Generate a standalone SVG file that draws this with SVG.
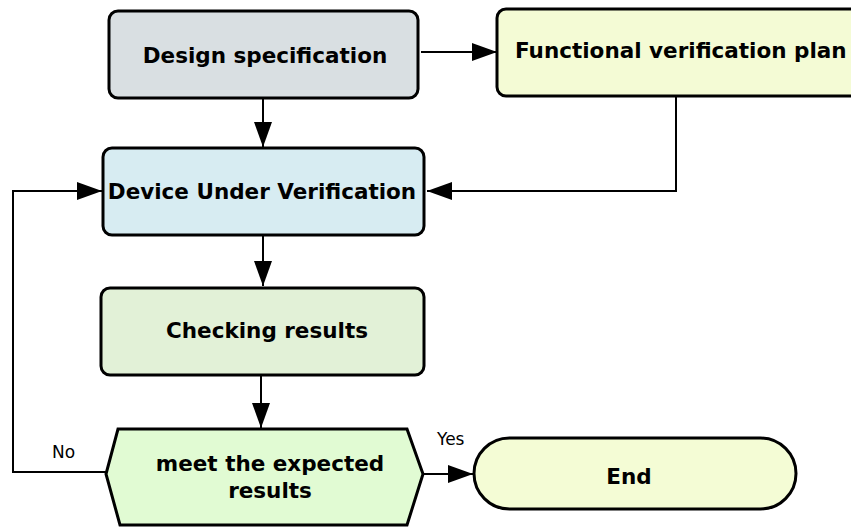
<svg xmlns="http://www.w3.org/2000/svg" width="851" height="527" viewBox="0 0 851 527">
  <style>
    .box { stroke: #000; stroke-width: 3; }
    .title { font-family: "DejaVu Sans", "Liberation Sans", sans-serif; font-weight: bold; font-size: 21.5px; fill: #000; }
    .label { font-family: "DejaVu Sans", "Liberation Sans", sans-serif; font-size: 17px; fill: #000; }
    .edge { fill: none; stroke: #000; stroke-width: 2; }
  </style>
  <defs>
    <marker id="arrow" markerWidth="25" markerHeight="18" refX="25" refY="9" orient="auto" markerUnits="userSpaceOnUse">
      <path d="M0,0 L25,9 L0,18 z" fill="#000"/>
    </marker>
  </defs>
  <rect width="851" height="527" fill="#fff"/>

  <g id="connectors">
    <path class="edge" d="M421,52 H497" marker-end="url(#arrow)"/>
    <path class="edge" d="M263,98 V147" marker-end="url(#arrow)"/>
    <path class="edge" d="M676,96 V191 H427" marker-end="url(#arrow)"/>
    <path class="edge" d="M263,235 V286" marker-end="url(#arrow)"/>
    <path class="edge" d="M261,375 V428" marker-end="url(#arrow)"/>
    <path class="edge" d="M423,474 H473" marker-end="url(#arrow)"/>
    <path class="edge" d="M106,472 H13 V191 H102" marker-end="url(#arrow)"/>
    <text class="label" x="52" y="458">No</text>
    <text class="label" x="437" y="445">Yes</text>
  </g>

  <g id="design-spec">
    <rect class="box" x="109" y="11" width="309" height="87" rx="9" fill="#d9dfe2"/>
    <text class="title" x="265" y="63" text-anchor="middle">Design specification</text>
  </g>

  <g id="verification-plan">
    <rect class="box" x="497" y="9" width="380" height="87" rx="9" fill="#f4fbd5"/>
    <text class="title" x="515" y="58">Functional verification plan</text>
  </g>

  <g id="duv">
    <rect class="box" x="103" y="148" width="321" height="87" rx="9" fill="#d7ecf2"/>
    <text class="title" x="262" y="199" text-anchor="middle">Device Under Verification</text>
  </g>

  <g id="checking">
    <rect class="box" x="101" y="288" width="323" height="87" rx="9" fill="#e2f1d7"/>
    <text class="title" x="267" y="338" text-anchor="middle">Checking results</text>
  </g>

  <g id="decision">
    <polygon class="box" points="118,429 407,429 423,474 407,525 120,525 106,474" fill="#e1fbd3"/>
    <text class="title" x="270" y="471" text-anchor="middle">meet the expected</text>
    <text class="title" x="270" y="498" text-anchor="middle">results</text>
  </g>

  <g id="end">
    <rect class="box" x="474" y="438" width="322" height="71" rx="35.5" fill="#f4fcd5"/>
    <text class="title" x="629" y="484" text-anchor="middle">End</text>
  </g>
</svg>
